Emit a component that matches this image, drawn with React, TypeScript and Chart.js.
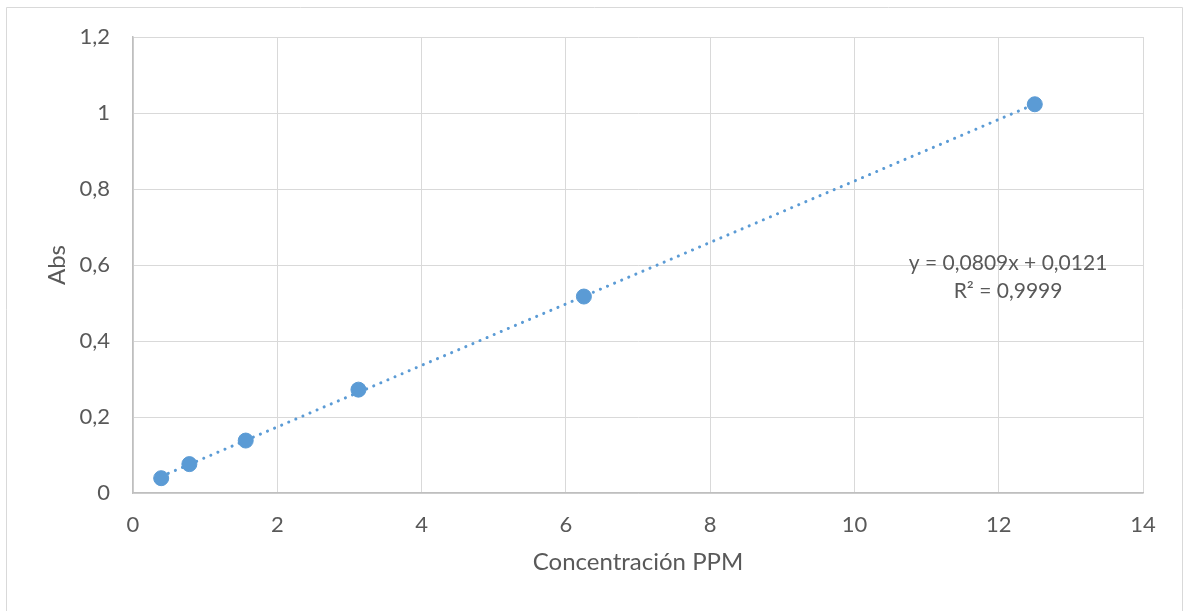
import React, { useEffect, useRef } from "react";
import { Chart, registerables } from "chart.js";

Chart.register(...registerables);

const concentrations = [0.390625, 0.78125, 1.5625, 3.125, 6.25, 12.5];
const absorbances = [0.039, 0.076, 0.138, 0.272, 0.517, 1.023];
const trendSlope = 0.0809;
const trendIntercept = 0.0121;
const equationText = "y = 0,0809x + 0,0121";
const r2Text = "R² = 0,9999";
const xTitle = "Concentración PPM";
const yTitle = "Abs";

const FONT = "Lato, 'Open Sans', sans-serif";
const TEXT = "#595959";
const GRID = "#d9d9d9";
const BLUE = "#5b9bd5";

const fmt = (v: number) => String(Math.round(v * 10) / 10).replace(".", ",");

const framePlugin = {
  id: "frame",
  beforeDraw(chart: any) {
    const ctx = chart.ctx;
    ctx.save();
    ctx.fillStyle = "#ffffff";
    ctx.fillRect(0, 0, chart.width, chart.height);
    ctx.strokeStyle = GRID;
    ctx.lineWidth = 1;
    ctx.beginPath();
    ctx.moveTo(6.5, chart.height);
    ctx.lineTo(6.5, 7.5);
    ctx.lineTo(1182.5, 7.5);
    ctx.lineTo(1182.5, chart.height);
    ctx.stroke();
    ctx.restore();
  },
  afterDatasetsDraw(chart: any) {
    const ctx = chart.ctx;
    const xs = chart.scales.x;
    const ys = chart.scales.y;
    const cx = xs.getPixelForValue(12.13);
    const y1 = ys.getPixelForValue(0.604);
    const y2 = ys.getPixelForValue(0.53);
    ctx.save();
    ctx.fillStyle = TEXT;
    ctx.font = `21px ${FONT}`;
    ctx.textAlign = "center";
    ctx.textBaseline = "middle";
    ctx.fillText(equationText, cx, y1);
    ctx.fillText(r2Text, cx, y2);
    ctx.restore();
  },
};

export default function App() {
  const ref = useRef<HTMLCanvasElement>(null);
  useEffect(() => {
    document.body.style.margin = "0";
    const xMin = concentrations[0];
    const xMax = concentrations[concentrations.length - 1];
    const chart = new Chart(ref.current!, {
      type: "scatter",
      data: {
        datasets: [
          {
            label: "Abs",
            data: concentrations.map((x, i) => ({ x, y: absorbances[i] })),
            backgroundColor: BLUE,
            borderColor: BLUE,
            pointRadius: 7.5,
            pointHoverRadius: 7.5,
            order: 1,
          },
          {
            label: "trend",
            type: "line",
            data: [
              { x: xMin, y: trendSlope * xMin + trendIntercept },
              { x: xMax, y: trendSlope * xMax + trendIntercept },
            ],
            borderColor: BLUE,
            borderWidth: 3,
            borderDash: [0.1, 7.6],
            borderCapStyle: "round",
            pointRadius: 0,
            fill: false,
            order: 2,
          } as any,
        ],
      },
      options: {
        animation: false,
        responsive: false,
        maintainAspectRatio: false,
        layout: { padding: { left: 0, top: 37, right: 41, bottom: 0 } },
        plugins: { legend: { display: false }, tooltip: { enabled: false } },
        scales: {
          x: {
            type: "linear",
            min: 0,
            max: 14,
            ticks: {
              stepSize: 2,
              color: TEXT,
              font: { family: FONT, size: 22 },
              padding: 19,
              callback: (v: any) => fmt(Number(v)),
            },
            grid: { color: GRID, lineWidth: 1, drawTicks: false },
            border: { color: "#bfbfbf", width: 1.5 },
            title: {
              display: true,
              text: xTitle,
              color: TEXT,
              font: { family: FONT, size: 24 },
              padding: { top: 0, bottom: 34 },
            },
            afterFit: (s: any) => {
              s.height = 118;
            },
          },
          y: {
            type: "linear",
            min: 0,
            max: 1.2,
            ticks: {
              stepSize: 0.2,
              color: TEXT,
              font: { family: FONT, size: 22 },
              padding: 23,
              callback: (v: any) => fmt(Number(v)),
            },
            grid: { color: GRID, lineWidth: 1, drawTicks: false },
            border: { color: "#bfbfbf", width: 1.5 },
            title: {
              display: true,
              text: yTitle,
              color: TEXT,
              font: { family: FONT, size: 24 },
              padding: { top: 43, bottom: 0 },
            },
            afterFit: (s: any) => {
              s.width = 133;
            },
          },
        },
      },
      plugins: [framePlugin],
    });
    return () => chart.destroy();
  }, []);
  return (
    <div style={{ width: 1184, height: 611 }}>
      <canvas ref={ref} width={1184} height={611} style={{ display: "block" }} />
    </div>
  );
}
